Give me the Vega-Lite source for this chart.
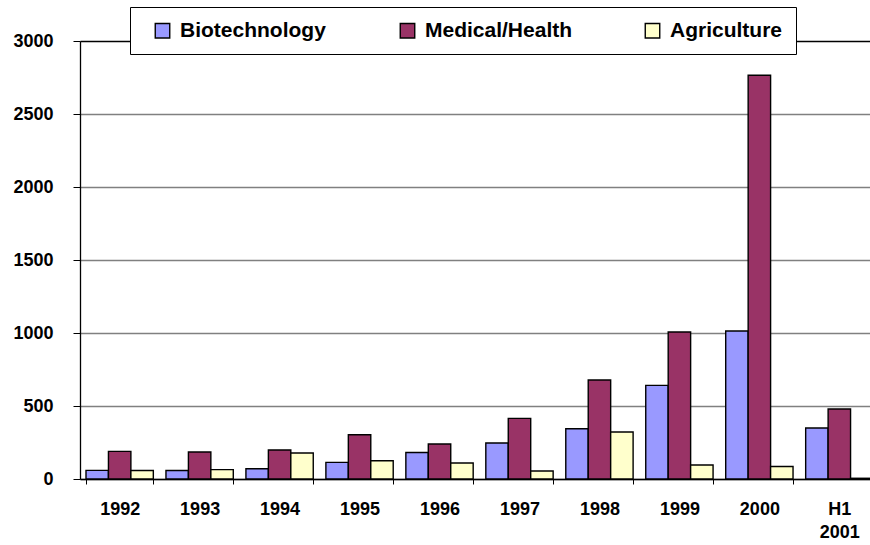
{
  "$schema": "https://vega.github.io/schema/vega-lite/v6.json",
  "autosize": "none",
  "width": 799,
  "height": 438,
  "padding": {"left": 80, "top": 41, "right": -9, "bottom": 66},
  "background": "white",
  "config": {
    "view": {"stroke": null},
    "font": "Liberation Sans"
  },
  "data": {
    "values": [
      {"period": "1992", "sector": "Biotechnology", "value": 59},
      {"period": "1992", "sector": "Medical/Health", "value": 189},
      {"period": "1992", "sector": "Agriculture", "value": 58},
      {"period": "1993", "sector": "Biotechnology", "value": 58},
      {"period": "1993", "sector": "Medical/Health", "value": 185},
      {"period": "1993", "sector": "Agriculture", "value": 64},
      {"period": "1994", "sector": "Biotechnology", "value": 70},
      {"period": "1994", "sector": "Medical/Health", "value": 199},
      {"period": "1994", "sector": "Agriculture", "value": 178},
      {"period": "1995", "sector": "Biotechnology", "value": 114},
      {"period": "1995", "sector": "Medical/Health", "value": 303},
      {"period": "1995", "sector": "Agriculture", "value": 125},
      {"period": "1996", "sector": "Biotechnology", "value": 182},
      {"period": "1996", "sector": "Medical/Health", "value": 240},
      {"period": "1996", "sector": "Agriculture", "value": 110},
      {"period": "1997", "sector": "Biotechnology", "value": 247},
      {"period": "1997", "sector": "Medical/Health", "value": 415},
      {"period": "1997", "sector": "Agriculture", "value": 55},
      {"period": "1998", "sector": "Biotechnology", "value": 344},
      {"period": "1998", "sector": "Medical/Health", "value": 678},
      {"period": "1998", "sector": "Agriculture", "value": 322},
      {"period": "1999", "sector": "Biotechnology", "value": 641},
      {"period": "1999", "sector": "Medical/Health", "value": 1007},
      {"period": "1999", "sector": "Agriculture", "value": 96},
      {"period": "2000", "sector": "Biotechnology", "value": 1014},
      {"period": "2000", "sector": "Medical/Health", "value": 2765},
      {"period": "2000", "sector": "Agriculture", "value": 86},
      {"period": "H1 2001", "sector": "Biotechnology", "value": 349},
      {"period": "H1 2001", "sector": "Medical/Health", "value": 479},
      {"period": "H1 2001", "sector": "Agriculture", "value": 5}
    ]
  },
  "mark": {"type": "bar", "stroke": "black", "strokeWidth": 1.4},
  "encoding": {
    "x": {
      "field": "period",
      "type": "nominal",
      "sort": null,
      "scale": {"paddingInner": 0.158, "paddingOuter": 0.075},
      "axis": {
        "title": null,
        "labelAngle": 0,
        "labelFont": "Liberation Sans",
        "labelFontWeight": "bold",
        "labelFontSize": 18,
        "labelColor": "black",
        "labelPadding": 16,
        "labelLineHeight": 23,
        "labelExpr": "datum.label == 'H1 2001' ? ['H1', '2001'] : datum.label",
        "tickBand": "extent",
        "tickSize": 5,
        "tickColor": "black",
        "domainColor": "black",
        "domainWidth": 1.3,
        "grid": false
      }
    },
    "xOffset": {
      "field": "sector",
      "type": "nominal",
      "sort": ["Biotechnology", "Medical/Health", "Agriculture"]
    },
    "y": {
      "field": "value",
      "type": "quantitative",
      "scale": {"domain": [0, 3000], "nice": false},
      "axis": {
        "title": null,
        "format": "d",
        "values": [0, 500, 1000, 1500, 2000, 2500, 3000],
        "labelFont": "Liberation Sans",
        "labelFontWeight": "bold",
        "labelFontSize": 18,
        "labelColor": "black",
        "labelPadding": 20,
        "tickSize": 7,
        "tickColor": "black",
        "domainColor": "black",
        "domainWidth": 1.3,
        "grid": true,
        "gridColor": {"condition": {"test": "datum.value == 3000", "value": "black"}, "value": "#808080"},
        "gridWidth": 1.3
      }
    },
    "color": {
      "field": "sector",
      "type": "nominal",
      "sort": ["Biotechnology", "Medical/Health", "Agriculture"],
      "scale": {
        "domain": ["Biotechnology", "Medical/Health", "Agriculture"],
        "range": ["#9999FF", "#993366", "#FFFFCC"]
      },
      "legend": {
        "title": null,
        "orient": "none",
        "legendX": 50,
        "legendY": -34,
        "direction": "horizontal",
        "columns": 3,
        "gridAlign": "all",
        "columnPadding": 60,
        "padding": 13,
        "fillColor": "white",
        "strokeColor": "black",
        "symbolType": "square",
        "symbolSize": 210,
        "symbolStrokeColor": "black",
        "symbolStrokeWidth": 1.4,
        "symbolOffset": 9,
        "labelOffset": 7,
        "labelFont": "Liberation Sans",
        "labelFontWeight": "bold",
        "labelFontSize": 21,
        "labelColor": "black",
        "labelLimit": 300,
        "labelExpr": "datum.label == 'Agriculture' ? 'Agriculture      ' : datum.label"
      }
    }
  }
}
